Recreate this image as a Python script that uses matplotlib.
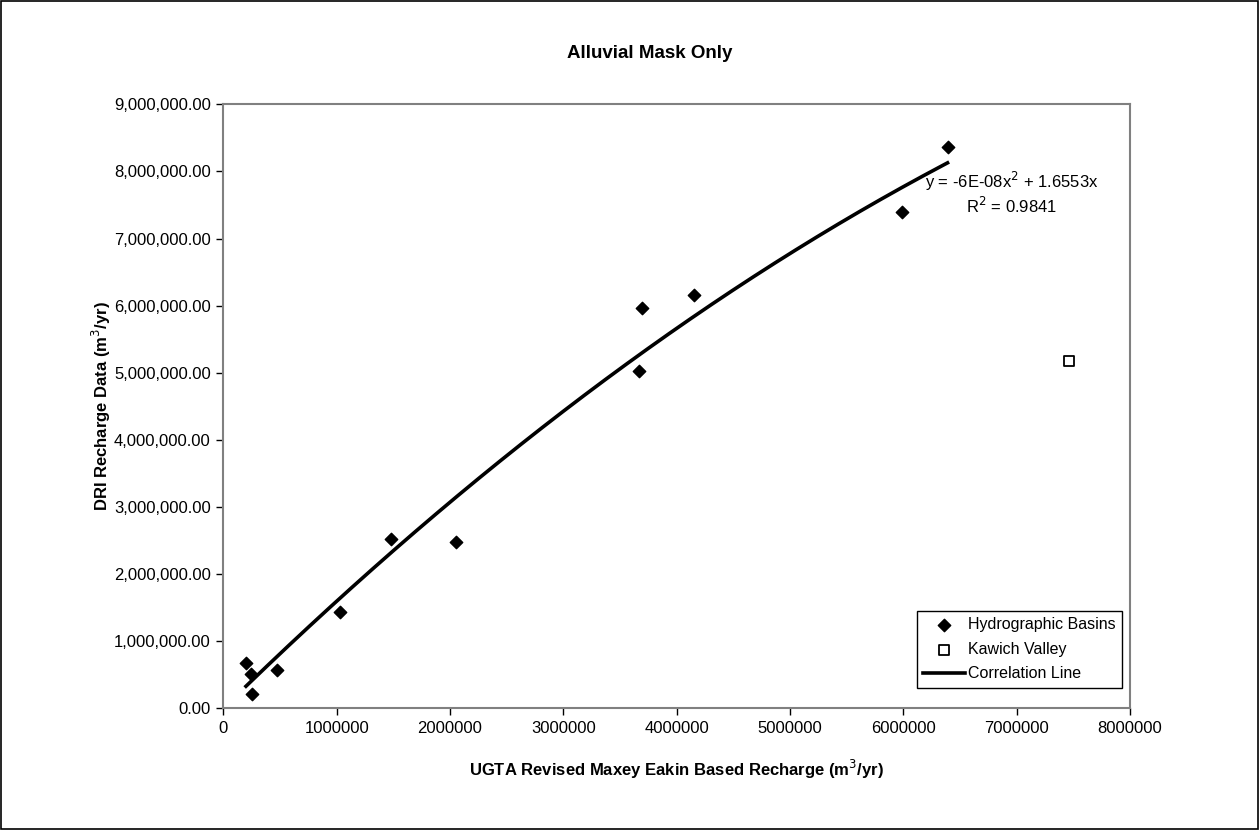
import matplotlib

matplotlib.use("Agg")
import matplotlib.pyplot as plt
import numpy as np
from matplotlib.patches import Rectangle
from matplotlib.ticker import FuncFormatter

plt.rcParams["font.family"] = ["Liberation Sans", "DejaVu Sans"]

# hydrographic basins (m3/yr)
basin_x = [200000, 245000, 250000, 470000, 1030000, 1480000, 2050000,
           3670000, 3690000, 4150000, 5990000, 6390000]
basin_y = [675000, 510000, 210000, 570000, 1435000, 2530000, 2480000,
           5030000, 5960000, 6160000, 7390000, 8360000]
# Kawich Valley
kawich_x = [7460000]
kawich_y = [5180000]
# correlation line coefficients
coef_a = -6e-08
coef_b = 1.6553
r2 = 0.9841

W, H = 1259, 830
fig = plt.figure(figsize=(W / 100, H / 100), dpi=100)
fig.patch.set_facecolor("#FFFFFF")
fig.patches.append(Rectangle((0.001, 0.001), 0.998, 0.998, transform=fig.transFigure,
                             fill=False, edgecolor="#000000", lw=1.2))

ax = fig.add_axes([223.3 / W, 1 - 708.3 / H, (1130 - 223.3) / W, (708.3 - 104.3) / H])

xs = np.linspace(min(basin_x), max(basin_x), 200)
ax.scatter(basin_x, basin_y, marker="D", s=40, color="#000000", zorder=3, label="Hydrographic Basins")
ax.scatter(kawich_x, kawich_y, marker="s", s=55, facecolor="#FFFFFF", edgecolor="#000000",
           linewidths=1.3, zorder=3, label="Kawich Valley")
ax.plot(xs, coef_a * xs ** 2 + coef_b * xs, color="#000000", lw=2.6, label="Correlation Line")

ax.set_xlim(0, 8000000)
ax.set_ylim(0, 9000000)
ax.set_xticks(np.arange(0, 8000001, 1000000))
ax.set_yticks(np.arange(0, 9000001, 1000000))
ax.xaxis.set_major_formatter(FuncFormatter(lambda v, p: f"{v:.0f}"))
ax.yaxis.set_major_formatter(FuncFormatter(lambda v, p: f"{v:,.2f}"))
ax.tick_params(direction="out", length=5, width=1, colors="#000000", labelsize=12, pad=4)
for spine in ax.spines.values():
    spine.set_color("#808080")
    spine.set_linewidth(1.5)

ax.set_xlabel("UGTA Revised Maxey Eakin Based Recharge (m$^3$/yr)", fontsize=12,
              fontweight="bold", labelpad=16)
ax.set_ylabel("DRI Recharge Data (m$^3$/yr)", fontsize=12, fontweight="bold", labelpad=1)
fig.text(0.5 + 20 / W, 1 - 54 / H, "Alluvial Mask Only", ha="center", va="center",
         fontsize=13.5, fontweight="bold")

fig.text(1012 / W, 1 - 181 / H, "y = -6E-08x$^2$ + 1.6553x", ha="center", va="center",
         fontsize=12)
fig.text(1012 / W, 1 - 206 / H, f"R$^2$ = {r2}", ha="center", va="center", fontsize=12)

leg = ax.legend(loc="lower right", bbox_to_anchor=(0.991, 0.034), fontsize=11.5, frameon=True,
                fancybox=False, edgecolor="#000000", framealpha=1, handlelength=2.6,
                handletextpad=0.2, borderpad=0.4, labelspacing=0.6, borderaxespad=0)
leg.get_frame().set_linewidth(1.0)

plt.savefig("out.png", dpi=100)
plt.close()
